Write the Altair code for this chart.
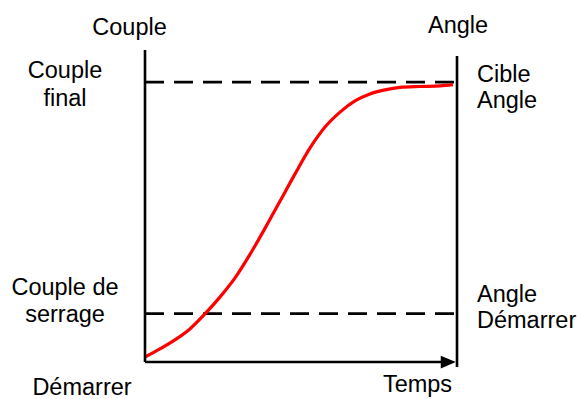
import altair as alt
import pandas as pd

# Tightening curve: time in % of the cycle, torque in % of the vertical scale
time_pct = [0, 4.8, 9.6, 14.4, 19.2, 24.0, 28.8, 33.7, 38.5, 43.3, 48.1,
            52.9, 57.7, 62.5, 67.3, 72.1, 76.9, 81.7, 88.1, 94.6, 98.7]
torque_pct = [1.6, 4.2, 7.1, 10.6, 15.4, 20.8, 26.9, 34.6, 42.9, 51.6, 60.3,
              68.6, 75.3, 80.1, 83.7, 85.9, 87.2, 88.0, 88.3, 88.5, 88.9]

# Reference levels (dashed lines)
level_names = ["final", "serrage"]
level_values = [89.7, 15.5]

FONT = "Liberation Sans"
FS = 23.5

xs = alt.Scale(domain=[0, 100], nice=False, zero=False)
ys = alt.Scale(domain=[0, 100], nice=False, zero=False)

curve = pd.DataFrame({"t": time_pct, "couple": torque_pct})
levels = pd.DataFrame({"name": level_names, "v": level_values, "t0": 0, "t1": 100})

# Frame: torque axis on the left, angle axis on the right, time axis at the bottom
frame = pd.DataFrame({
    "x": [0, 100, 0],
    "x2": [0, 100, 95.5],
    "y": [0, -1.6, 0],
    "y2": [100, 98.1, 0],
})
arrow_tip = pd.DataFrame({"t": [97.2], "v": [0]})
one = pd.DataFrame({"_": [0]})

axes_lines = alt.Chart(frame).mark_rule(color="black", strokeWidth=2.6).encode(
    x=alt.X("x:Q", scale=xs, axis=None),
    x2="x2:Q",
    y=alt.Y("y:Q", scale=ys, axis=None),
    y2="y2:Q",
)

arrow = alt.Chart(arrow_tip).mark_point(
    shape="M-1,-0.85L1,0L-1,0.85Z", filled=True, size=225, color="black", opacity=1
).encode(
    x=alt.X("t:Q", scale=xs, axis=None),
    y=alt.Y("v:Q", scale=ys, axis=None),
)

dashed = alt.Chart(levels).mark_rule(
    color="black", strokeWidth=2.6, strokeDash=[19, 10]
).encode(
    x=alt.X("t0:Q", scale=xs, axis=None),
    x2="t1:Q",
    y=alt.Y("v:Q", scale=ys, axis=None),
)

line = alt.Chart(curve).mark_line(
    color="#ff0000", strokeWidth=3.2, interpolate="monotone"
).encode(
    x=alt.X("t:Q", scale=xs, axis=None),
    y=alt.Y("couple:Q", scale=ys, axis=None),
)


def label(lines, t, v, align, dx, dy, line_height=27):
    return alt.Chart(one).mark_text(
        text=lines, align=align, baseline="alphabetic", dx=dx, dy=dy,
        lineHeight=line_height, font=FONT, fontSize=FS, color="black",
    ).encode(
        x=alt.XDatum(t, scale=xs, axis=None),
        y=alt.YDatum(v, scale=ys, axis=None),
    )


texts = [
    label("Couple", 0, 100, "center", -15.5, -15),
    label("Angle", 100, 100, "center", 1, -17),
    label(["Couple", "final"], 0, level_values[0], "center", -80, -4, 28),
    label(["Couple de", "serrage"], 0, level_values[1], "center", -80, -18.5, 27),
    label(["Cible", "Angle"], 100, level_values[0], "left", 20, 0, 26),
    label(["Angle", "Démarrer"], 100, level_values[1], "left", 20, -11.5, 26),
    label("Temps", 99.4, 0, "right", -3, 30),
    label("Démarrer", 0, 0, "center", -63, 33),
]

chart = alt.layer(dashed, line, axes_lines, arrow, *texts).properties(
    width=312,
    height=312,
    padding={"left": 145, "top": 50, "right": 120, "bottom": 37},
    autosize="none",
    background="white",
).configure_view(stroke=None)

chart.save("out.html", embed_options={"renderer": "svg", "actions": False})
